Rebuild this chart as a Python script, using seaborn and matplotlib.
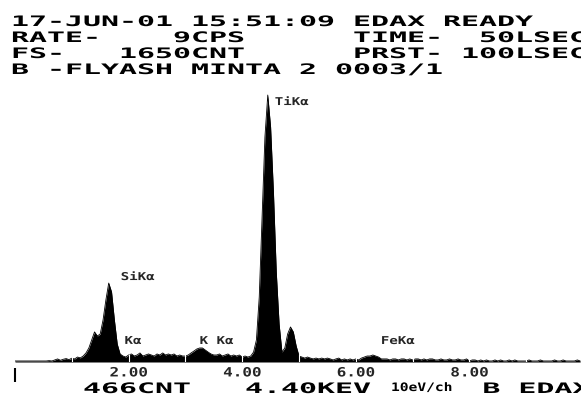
import numpy as np
import matplotlib
matplotlib.use("Agg")
import matplotlib.pyplot as plt
import seaborn as sns
from matplotlib.path import Path
from matplotlib.patheffects import AbstractPathEffect
from matplotlib.transforms import Affine2D

# EDAX spectrum, one value every 0.05 keV from 0.00 to 9.95 keV (counts)
CHANNEL_KEV = 0.05
counts = [
    # 0.00 - 0.95
    6, 6, 6, 6, 6, 6, 6, 6, 6, 6, 6, 6, 8, 6, 12, 18, 10, 16, 20, 14,
    # 1.00 - 1.95
    22, 18, 29, 24, 35, 53, 82, 129, 176, 152, 164, 246, 363, 462, 410, 246, 105, 47, 35, 29,
    # 2.00 - 2.95
    41, 47, 35, 41, 53, 35, 41, 47, 41, 35, 47, 41, 53, 41, 47, 41, 47, 35, 41, 35,
    # 3.00 - 3.95
    35, 41, 53, 64, 76, 82, 82, 70, 58, 47, 41, 41, 47, 35, 41, 47, 35, 41, 35, 41,
    # 4.00 - 4.95
    29, 35, 29, 35, 58, 129, 380, 848, 1316, 1562, 1375, 995, 527, 222, 58, 82, 164, 205, 176, 94,
    # 5.00 - 5.95
    35, 29, 23, 29, 23, 18, 23, 18, 23, 18, 23, 18, 12, 18, 23, 12, 18, 12, 18, 12,
    # 6.00 - 6.95
    18, 12, 23, 29, 35, 35, 41, 35, 29, 18, 18, 18, 12, 18, 18, 12, 18, 18, 12, 18,
    # 7.00 - 7.95
    12, 18, 18, 12, 18, 12, 18, 18, 12, 12, 18, 12, 12, 18, 12, 12, 18, 12, 12, 18,
    # 8.00 - 8.95
    6, 12, 12, 6, 12, 6, 12, 6, 6, 12, 6, 12, 6, 6, 12, 6, 12, 6, 6, 6,
    # 9.00 - 9.95
    6, 12, 6, 6, 6, 12, 6, 6, 6, 6, 12, 6, 6, 12, 6, 6, 6, 6, 12, 6,
]
full_scale_cnt = 1650

tick_kev = [2, 4, 6, 8]
tick_labels = ["2.00", "4.00", "6.00", "8.00"]
marker_kev = [1, 2, 3, 4, 5, 6, 7, 8, 9]

peak_names = ["TiKα", "SiKα", "Kα", "K Kα", "FeKα"]
peak_kev = [4.45, 1.65, 1.40, 3.25, 6.30]
peak_offsets = [(7, -7), (12, 6), (30, -9), (0, 7), (8, 14)]

header_lines = [
    "17-JUN-01 15:51:09 EDAX READY",
    "RATE-    9CPS      TIME-  50LSEC",
    "FS-   1650CNT      PRST- 100LSEC",
    "B -FLYASH MINTA 2 0003/1",
]
footer_main = "    466CNT   4.40KEV"
footer_scale = "10eV/ch"
footer_tag = "B EDAX"

W, H = 581, 395


class Stretch(AbstractPathEffect):
    """Widen glyphs horizontally, like the blocky printer font."""

    def __init__(self, sx, anchor="left"):
        super().__init__()
        self.sx = sx
        self.anchor = anchor

    def draw_path(self, renderer, gc, tpath, affine, rgbFace=None):
        cx = 0.0
        if self.anchor == "center" and len(tpath.vertices):
            v = tpath.vertices
            if tpath.codes is not None:
                v = v[tpath.codes != Path.CLOSEPOLY]
            cx = (v[:, 0].min() + v[:, 0].max()) / 2
        st = Affine2D().translate(-cx, 0).scale(self.sx, 1).translate(cx, 0)
        renderer.draw_path(gc, tpath, st + affine, rgbFace)


def put(fig, x, y, s, size, sx, weight="bold"):
    # x, y in pixels from the top left corner, y is the text baseline
    fig.text(x / W, 1 - y / H, s, fontsize=size, fontweight=weight,
             ha="left", va="baseline", color="black",
             path_effects=[Stretch(sx)])


sns.set_theme(style="white")
plt.rcParams["font.family"] = ["DejaVu Sans Mono", "DejaVu Sans"]

energy = np.arange(len(counts)) * CHANNEL_KEV
counts = np.array(counts)

fig = plt.figure(figsize=(W / 100, H / 100), dpi=100)
fig.patch.set_facecolor("white")
ax = fig.add_axes([15 / W, 1 - 362 / H, 566 / W, 282 / H])

ax.fill_between(energy, counts, 0, color="black", lw=0)
sns.lineplot(x=energy, y=counts, color="black", lw=0.6, ax=ax)
ax.vlines(marker_kev, 0, 45, color="white", lw=0.8)

ax.set_xlim(0, 566 / 56.8)
ax.set_ylim(0, full_scale_cnt)
ax.set_facecolor("white")
sns.despine(ax=ax, left=True, bottom=True, top=True, right=True)
ax.set_yticks([])
ax.set_xticks(tick_kev)
ax.set_xticklabels(tick_labels, fontsize=9.2, fontweight="bold")
ax.tick_params(axis="x", length=0, pad=3.2)
for lab in ax.get_xticklabels():
    lab.set_path_effects([Stretch(1.25, "center")])

# origin marker below the spectrum
ax.vlines([0], -117, -35, color="black", lw=1.5, clip_on=False)

for name, kev, off in zip(peak_names, peak_kev, peak_offsets):
    top = counts[int(round(kev / CHANNEL_KEV))]
    ax.annotate(name, xy=(kev, top), xytext=off, textcoords="offset pixels",
                fontsize=7.8, fontweight="bold", ha="left", va="center",
                path_effects=[Stretch(1.3)])

for i, line in enumerate(header_lines):
    put(fig, 11, 26 + 16 * i, line, 10.4, 2.07)

put(fig, 11, 393, footer_main, 10.4, 2.07)
put(fig, 391, 391, footer_scale, 8.4, 1.25)
put(fig, 17 + 26 * 17.9, 393, footer_tag, 10.4, 2.07)

fig.savefig("out.png", dpi=100, facecolor="white")
